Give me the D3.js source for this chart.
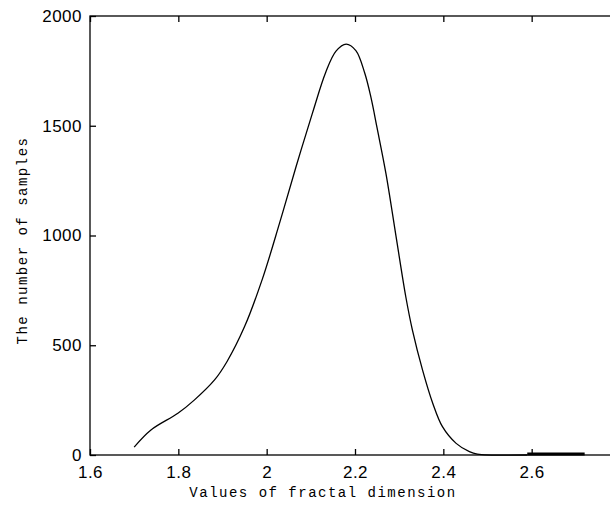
<!DOCTYPE html>
<html>
<meta charset="utf-8">
<script src="https://d3js.org/d3.v7.min.js"></script>
<style>
  body { margin: 0; background: #fff; }
</style>
<body>
<div id="my_dataviz"></div>
<script>

// fractal dimension values (x) and sample counts (y)
var fdValues = [1.70, 1.738, 1.799, 1.836, 1.882, 1.91, 1.95, 1.99, 2.029, 2.066, 2.104, 2.134, 2.157, 2.18, 2.202, 2.222, 2.236, 2.25, 2.27, 2.293, 2.315, 2.33, 2.353, 2.376, 2.398, 2.429, 2.459, 2.477, 2.59];
var sampleCounts = [36, 114, 190, 250, 342, 425, 585, 800, 1055, 1310, 1560, 1745, 1840, 1872, 1842, 1740, 1630, 1490, 1283, 995, 721, 569, 387, 236, 129, 53, 15, 4, 0];

// small tail near zero on the right
var tailValues = [2.59, 2.72];
var tailCounts = [4, 4];

var xTicks = [1.6, 1.8, 2, 2.2, 2.4, 2.6];
var yTicks = [0, 500, 1000, 1500, 2000];

var margin = {top: 16, left: 90},
    width = 530,
    height = 439;

var svg = d3.select("#my_dataviz")
  .append("svg")
    .attr("width", 610)
    .attr("height", 510)
  .append("g")
    .attr("transform", "translate(" + margin.left + "," + margin.top + ")");

var x = d3.scaleLinear().domain([1.6, 2.8]).range([0, width]);
var y = d3.scaleLinear().domain([0, 2000]).range([height, 0]);

// box
svg.append("rect")
  .attr("width", width)
  .attr("height", height)
  .attr("fill", "none")
  .attr("stroke", "#000")
  .attr("stroke-width", 1.3);

// ticks pointing inward, matlab style
var tickFont = "'Liberation Sans', Arial, sans-serif";

var xAxis = svg.append("g")
  .attr("transform", "translate(0," + height + ")")
  .call(d3.axisBottom(x).tickValues(xTicks).tickSize(-6).tickPadding(11)
        .tickFormat(function(d) { return d; }));
var xTop = svg.append("g")
  .call(d3.axisTop(x).tickValues(xTicks).tickSize(-6).tickFormat(""));
var yAxis = svg.append("g")
  .call(d3.axisLeft(y).tickValues(yTicks).tickSize(-6).tickPadding(8)
        .tickFormat(d3.format("d")));

[xAxis, xTop, yAxis].forEach(function(g) {
  g.select(".domain").remove();
  g.selectAll(".tick line").attr("stroke", "#000").attr("stroke-width", 1.3);
  g.selectAll("text")
    .attr("fill", "#000")
    .style("font-family", tickFont)
    .style("font-size", "17px")
    .style("letter-spacing", "0.5px");
});

// the curve
var line = d3.line()
  .x(function(d) { return x(d[0]); })
  .y(function(d) { return y(d[1]); })
  .curve(d3.curveCatmullRom.alpha(0.5));

svg.append("path")
  .datum(d3.zip(fdValues, sampleCounts))
  .attr("fill", "none")
  .attr("stroke", "#000")
  .attr("stroke-width", 1.3)
  .attr("d", line);

svg.append("path")
  .datum(d3.zip(tailValues, tailCounts))
  .attr("fill", "none")
  .attr("stroke", "#000")
  .attr("stroke-width", 3)
  .attr("d", line);

// labels
var labelFont = "'Liberation Mono', 'DejaVu Sans Mono', monospace";

svg.append("text")
  .attr("x", 233)
  .attr("y", height + 42)
  .attr("text-anchor", "middle")
  .style("font-family", labelFont)
  .style("font-size", "14px")
  .style("letter-spacing", "1.5px")
  .text("Values of fractal dimension");

svg.append("text")
  .attr("transform", "rotate(-90)")
  .attr("x", -(height / 2) - 5)
  .attr("y", 27 - margin.left)
  .attr("text-anchor", "middle")
  .style("font-family", labelFont)
  .style("font-size", "14px")
  .style("letter-spacing", "1.5px")
  .text("The number of samples");

</script>
</body>
</html>
